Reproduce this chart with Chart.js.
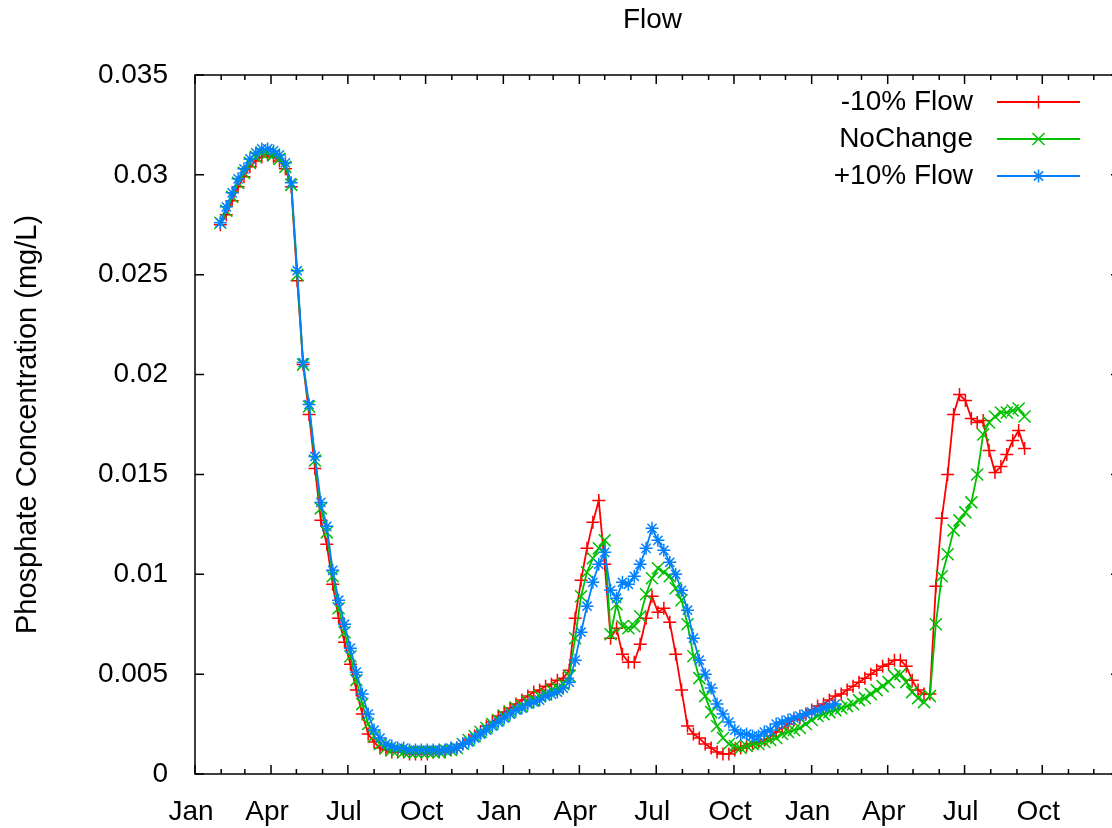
<!DOCTYPE html>
<html lang="en">
<head>
<meta charset="UTF-8">
<title>Flow</title>
<script src="https://cdn.jsdelivr.net/npm/chart.js"></script>
<style>
  html, body { margin: 0; padding: 0; background: #fff; overflow: hidden; }
  canvas { display: block; }
</style>
</head>
<body>
<canvas id="grafico" width="1130" height="828"></canvas>
<script>
// sampling: weekly, first sample on day 30 of year 1
const firstDay = 30;
const stepDays = 7;

// axis ticks (days since Jan 1 of year 1)
const xTickDays = [0, 90, 181, 273, 365, 455, 546, 638, 730, 820, 911, 1003];
const xTickLabels = ['Jan', 'Apr', 'Jul', 'Oct', 'Jan', 'Apr', 'Jul', 'Oct', 'Jan', 'Apr', 'Jul', 'Oct'];
const monthDays = [0, 31, 59, 90, 120, 151, 181, 212, 243, 273, 304, 334,
  365, 396, 424, 455, 485, 516, 546, 577, 608, 638, 669, 699,
  730, 761, 789, 820, 850, 881, 911, 942, 973, 1003, 1034, 1064, 1095];

const minus10 = [
  0.0275, 0.0280, 0.0287, 0.0294, 0.0299, 0.0304, 0.0307, 0.0309, 0.0310, 0.0309,
  0.0307, 0.0303, 0.0294, 0.0247, 0.0205, 0.0180, 0.0153, 0.0127, 0.0115, 0.0095,
  0.0078, 0.0066, 0.0055, 0.0042, 0.0030, 0.0020, 0.0016, 0.0013, 0.0012, 0.0011,
  0.0011, 0.0011, 0.0010, 0.0010, 0.0010, 0.0010, 0.0011, 0.0011, 0.0011, 0.0012,
  0.0013, 0.0015, 0.0017, 0.0019, 0.0021, 0.0024, 0.0026, 0.0029, 0.0031, 0.0033,
  0.0035, 0.0037, 0.0039, 0.0041, 0.0042, 0.0044, 0.0045, 0.0047, 0.0048, 0.0052,
  0.0078, 0.0097, 0.0113, 0.0126, 0.0137, 0.0105, 0.0068, 0.0073, 0.0060, 0.0056,
  0.0056, 0.0065, 0.0078, 0.0089, 0.0081, 0.0083, 0.0076, 0.0060, 0.0042, 0.0024,
  0.0020, 0.0018, 0.0015, 0.0013, 0.0011, 0.0010, 0.0010, 0.0012, 0.0013, 0.0014,
  0.0015, 0.0016, 0.0017, 0.0019, 0.0021, 0.0023, 0.0025, 0.0027, 0.0028, 0.0030,
  0.0032, 0.0034, 0.0035, 0.0037, 0.0039, 0.0040, 0.0042, 0.0044, 0.0046, 0.0048,
  0.0050, 0.0052, 0.0054, 0.0055, 0.0057, 0.0057, 0.0054, 0.0047, 0.0042, 0.0040,
  0.0040, 0.0094, 0.0128, 0.0150, 0.0180, 0.0190, 0.0187, 0.0178, 0.0176, 0.0177,
  0.0162, 0.0151, 0.0154, 0.0160, 0.0167, 0.0172, 0.0163
];

const noChange = [
  0.0276, 0.0282, 0.0289, 0.0296, 0.0301, 0.0306, 0.0309, 0.0311, 0.0311, 0.0310,
  0.0308, 0.0304, 0.0295, 0.0250, 0.0205, 0.0184, 0.0157, 0.0133, 0.0121, 0.0099,
  0.0083, 0.0071, 0.0059, 0.0047, 0.0035, 0.0025, 0.0019, 0.0015, 0.0013, 0.0012,
  0.0012, 0.0011, 0.0011, 0.0011, 0.0011, 0.0011, 0.0011, 0.0011, 0.0012, 0.0012,
  0.0013, 0.0015, 0.0017, 0.0019, 0.0021, 0.0023, 0.0025, 0.0027, 0.0029, 0.0031,
  0.0033, 0.0034, 0.0036, 0.0037, 0.0039, 0.0040, 0.0042, 0.0043, 0.0045, 0.0049,
  0.0068, 0.0089, 0.0101, 0.0108, 0.0113, 0.0117, 0.0070, 0.0085, 0.0074, 0.0073,
  0.0074, 0.0079, 0.0090, 0.0098, 0.0103, 0.0101, 0.0099, 0.0093, 0.0087, 0.0075,
  0.0059, 0.0048, 0.0039, 0.0031, 0.0024, 0.0018, 0.0015, 0.0014, 0.0013, 0.0014,
  0.0015, 0.0015, 0.0016, 0.0017, 0.0018, 0.0020, 0.0021, 0.0022, 0.0023, 0.0025,
  0.0027, 0.0029, 0.0030, 0.0031, 0.0032, 0.0033, 0.0034, 0.0035, 0.0037, 0.0038,
  0.0040, 0.0042, 0.0044, 0.0046, 0.0049, 0.0050, 0.0046, 0.0041, 0.0038, 0.0036,
  0.0039, 0.0075, 0.0099, 0.0110, 0.0122, 0.0127, 0.0131, 0.0136, 0.0150, 0.0170,
  0.0176, 0.0179, 0.0181, 0.0181, 0.0182, 0.0183, 0.0179
];

const plus10 = [
  0.0276, 0.0284, 0.0291, 0.0298, 0.0303, 0.0308, 0.0311, 0.0313, 0.0313, 0.0312,
  0.0310, 0.0306, 0.0296, 0.0252, 0.0206, 0.0185, 0.0159, 0.0136, 0.0124, 0.0102,
  0.0087, 0.0075, 0.0063, 0.0051, 0.0040, 0.0030, 0.0022, 0.0018, 0.0015, 0.0014,
  0.0013, 0.0013, 0.0012, 0.0012, 0.0012, 0.0012, 0.0012, 0.0012, 0.0012, 0.0013,
  0.0013, 0.0015, 0.0016, 0.0018, 0.0020, 0.0022, 0.0024, 0.0026, 0.0028, 0.0030,
  0.0032, 0.0033, 0.0035, 0.0036, 0.0037, 0.0039, 0.0040, 0.0041, 0.0043, 0.0046,
  0.0057, 0.0071, 0.0084, 0.0096, 0.0105, 0.0111, 0.0092, 0.0088, 0.0096, 0.0095,
  0.0099, 0.0105, 0.0113, 0.0123, 0.0117, 0.0112, 0.0106, 0.0100, 0.0092, 0.0082,
  0.0068, 0.0057, 0.0050, 0.0043, 0.0035, 0.0030, 0.0026, 0.0022, 0.0020, 0.0020,
  0.0019, 0.0019, 0.0021, 0.0022, 0.0025, 0.0026, 0.0027, 0.0028, 0.0029, 0.0030,
  0.0031, 0.0032, 0.0033, 0.0034, 0.0035
];

const font = { family: '"Liberation Sans", Arial, sans-serif', size: 28 };
const titleFont = { family: '"Liberation Sans", Arial, sans-serif', size: 29 };

function toPoints(values) {
  return values.map((v, i) => ({ x: firstDay + i * stepDays, y: v }));
}

function serie(label, values, color, style, radius, order) {
  return {
    label: label,
    data: toPoints(values),
    borderColor: color,
    backgroundColor: color,
    borderWidth: 1.8,
    pointStyle: style,
    pointRadius: radius,
    pointBorderWidth: 1.5,
    pointBorderColor: color,
    tension: 0,
    fill: false,
    order: order
  };
}

// gnuplot-like frame, inward ticks, title and key
const gnuplotFrame = {
  id: 'gnuplotFrame',
  afterDraw(chart) {
    const ctx = chart.ctx;
    const { left, right, top, bottom } = chart.chartArea;
    const x = chart.scales.x, y = chart.scales.y;
    ctx.save();
    ctx.strokeStyle = '#000';
    ctx.lineWidth = 1.5;
    ctx.strokeRect(left, top, right - left, bottom - top);
    ctx.beginPath();
    monthDays.forEach((d, i) => {
      const px = x.getPixelForValue(d);
      const len = i % 3 === 0 ? 9 : 5;
      ctx.moveTo(px, bottom); ctx.lineTo(px, bottom - len);
      ctx.moveTo(px, top); ctx.lineTo(px, top + len);
    });
    y.ticks.forEach(t => {
      const py = y.getPixelForValue(t.value);
      ctx.moveTo(left, py); ctx.lineTo(left + 9, py);
      ctx.moveTo(right, py); ctx.lineTo(right - 9, py);
    });
    ctx.stroke();

    ctx.fillStyle = '#000';
    ctx.font = font.size + 'px ' + font.family;
    ctx.textAlign = 'center';
    ctx.textBaseline = 'middle';
    ctx.fillText('Flow', (left + right) / 2 - 5, 20);

    // key
    const textRight = 973, x0 = 997, x1 = 1080, row0 = 102, gap = 37;
    const sets = [0, 1, 2].map(i => chart.data.datasets[i]);
    sets.forEach((ds, k) => {
      const ry = row0 + k * gap;
      ctx.textAlign = 'right';
      ctx.fillStyle = '#000';
      ctx.fillText(ds.label, textRight, ry);
      ctx.strokeStyle = ds.borderColor;
      ctx.lineWidth = ds.borderWidth;
      ctx.beginPath();
      ctx.moveTo(x0, ry); ctx.lineTo(x1, ry);
      ctx.stroke();
      ctx.lineWidth = ds.pointBorderWidth;
      Chart.helpers.drawPoint(ctx, {
        pointStyle: ds.pointStyle, radius: ds.pointRadius,
        borderWidth: ds.pointBorderWidth, rotation: 0
      }, (x0 + x1) / 2, ry);
    });
    ctx.restore();
  }
};

new Chart(document.getElementById('grafico'), {
  type: 'line',
  data: {
    datasets: [
      serie('-10% Flow', minus10, '#ff0000', 'cross', 6.5, 3),
      serie('NoChange', noChange, '#00c000', 'crossRot', 8.5, 2),
      serie('+10% Flow', plus10, '#0080ff', 'star', 6.5, 1)
    ]
  },
  options: {
    responsive: false,
    animation: false,
    layout: { padding: { top: 75, right: 10, left: 0, bottom: 0 } },
    plugins: {
      legend: { display: false },
      title: { display: false },
      tooltip: { enabled: false }
    },
    scales: {
      x: {
        type: 'linear',
        min: 0,
        max: 1095,
        afterBuildTicks: s => { s.ticks = xTickDays.map(v => ({ value: v })); },
        afterFit: s => { s.height = 54; },
        ticks: {
          autoSkip: false,
          maxRotation: 0,
          padding: 21,
          labelOffset: -4,
          color: '#000',
          font: font,
          callback: (v, i) => xTickLabels[i]
        },
        grid: { display: false, drawTicks: false },
        border: { display: false }
      },
      y: {
        min: 0,
        max: 0.035,
        afterFit: s => { s.width = 195; },
        ticks: {
          stepSize: 0.005,
          padding: 27,
          color: '#000',
          font: font,
          callback: v => +v.toFixed(3)
        },
        grid: { display: false, drawTicks: false },
        border: { display: false },
        title: {
          display: true,
          text: 'Phosphate Concentration (mg/L)',
          color: '#000',
          font: titleFont,
          padding: { top: 11, bottom: 0 }
        }
      }
    }
  },
  plugins: [gnuplotFrame]
});
</script>
</body>
</html>
